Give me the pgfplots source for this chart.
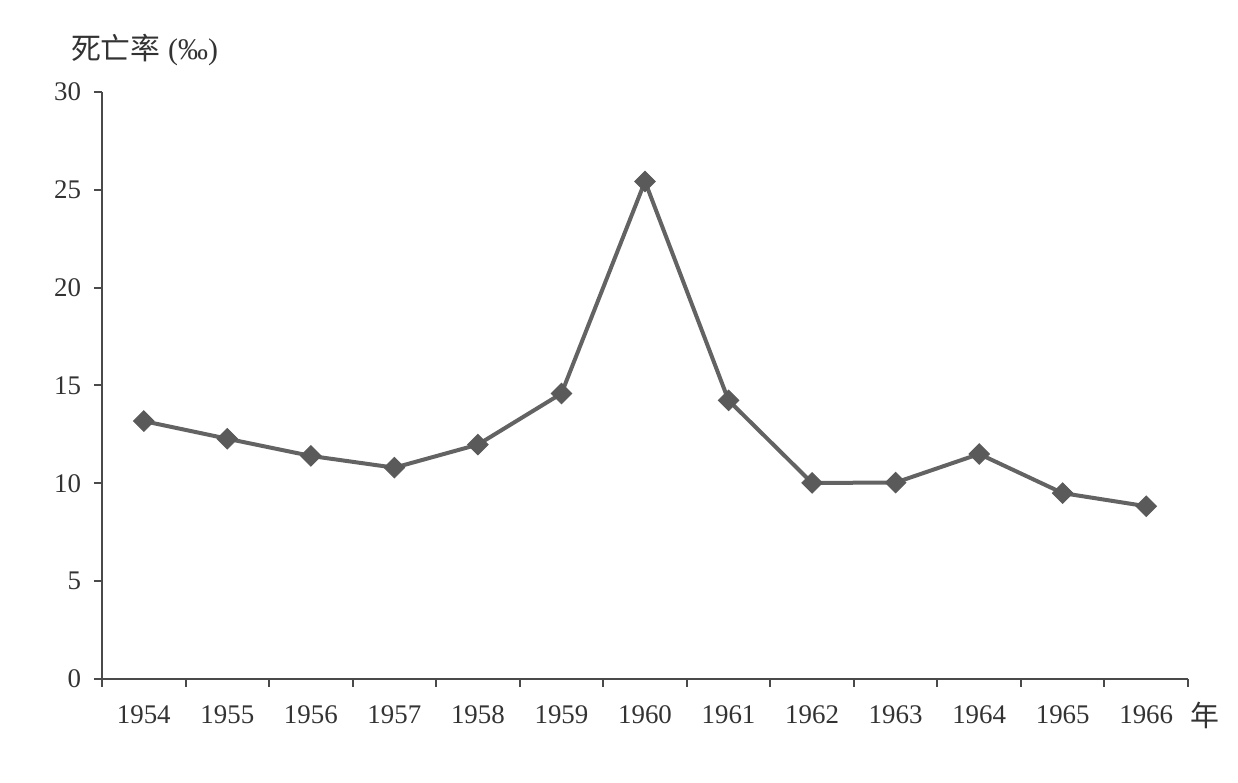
\documentclass[border=0pt]{standalone}
\usepackage{fontspec}
\setmainfont{Liberation Serif}
\newfontfamily\cjk{Noto Sans CJK SC}
\usepackage{pgfplots}
\pgfplotsset{compat=1.18}
\definecolor{axgray}{HTML}{4A4A4A}
\definecolor{linegray}{HTML}{636363}
\definecolor{markgray}{HTML}{5A5A5A}
\definecolor{txtgray}{HTML}{333333}
\begin{document}
\begin{tikzpicture}
\begin{axis}[
  scale only axis,
  width=543bp, height=293.5bp,
  xmin=-0.5, xmax=12.5,
  ymin=0, ymax=30,
  axis lines=left,
  axis line style={axgray, line width=1.1bp, -},
  xtick={-0.5,0.5,...,12.5},
  x tick label as interval,
  xticklabels={1954,1955,1956,1957,1958,1959,1960,1961,1962,1963,1964,1965,1966},
  ytick={0,5,...,30},
  tick align=outside,
  major tick length=4bp,
  tick style={axgray, line width=1bp},
  every tick label/.append style={font=\fontsize{13.5}{15}\selectfont, text=txtgray},
  xticklabel style={yshift=-6bp},
  yticklabel style={xshift=-3bp},
  /pgf/number format/assume math mode=true,
  clip=false,
]
\addplot[color=linegray, line width=2bp, mark=square*, mark size=3.6bp,
  mark options={fill=markgray, draw=markgray, line width=0.5bp, rotate=45}]
  coordinates {
  (0,13.18) (1,12.28) (2,11.40) (3,10.80) (4,11.98) (5,14.59) (6,25.43)
  (7,14.24) (8,10.02) (9,10.04) (10,11.50) (11,9.50) (12,8.83)
  };
\end{axis}
\node[anchor=west, text=txtgray, font=\fontsize{15}{17}\selectfont] at ([xshift=-19bp, yshift=314.5bp]current axis.south west) {{\cjk 死亡率} (‰)};
\node[text=txtgray, font=\cjk\fontsize{14.5}{16}\selectfont] at ([xshift=551.5bp, yshift=-18bp]current axis.south west) {年};
\path[use as bounding box] ([xshift=-51bp, yshift=-52bp]current axis.south west) rectangle ([xshift=568bp, yshift=339.5bp]current axis.south west);
\end{tikzpicture}
\end{document}
